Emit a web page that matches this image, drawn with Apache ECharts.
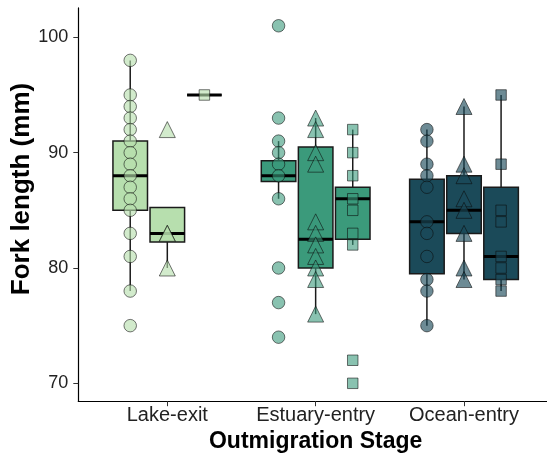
<!DOCTYPE html>
<html>
<head>
<meta charset="utf-8">
<script src="https://cdn.jsdelivr.net/npm/echarts@6/dist/echarts.min.js"></script>
<style>
  html, body { margin: 0; padding: 0; background: #ffffff; }
  #chart { width: 547px; height: 456px; }
</style>
</head>
<body>
<div id="chart"></div>
<script>
// Categories and tick labels
const stages = ['Lake-exit', 'Estuary-entry', 'Ocean-entry'];
const yTicks = [70, 80, 90, 100];

// Individual fork lengths (mm) per stage, one list per marker group
const lakeCircle = [98, 95, 94, 93, 92, 91, 90, 89, 88, 87, 86, 85, 83, 81, 78, 75];
const lakeTriangle = [92, 83, 83, 80];
const lakeSquare = [95];
const estuaryCircle = [101, 93, 91, 90, 89, 88, 86, 80, 77, 74];
const estuaryTriangle = [93, 92, 90, 89, 84, 83, 82, 81, 80, 79, 76];
const estuarySquare = [92, 90, 88, 86, 85, 83, 82, 72, 70];
const oceanCircle = [92, 91, 89, 88, 87, 84, 83, 81, 79, 78, 75];
const oceanTriangle = [94, 89, 88, 86, 85, 83, 80, 79];
const oceanSquare = [95, 89, 85, 84, 81, 80, 79, 78];

// Box summaries: [lower whisker, Q1, median, Q3, upper whisker]
const lakeCircleBox = [78, 85, 88, 91, 98];
const lakeTriangleBox = [80, 82.25, 83, 85.25, 85.25];
const lakeSquareBox = [95, 95, 95, 95, 95];
const estuaryCircleBox = [86, 87.5, 88, 89.3, 91];
const estuaryTriangleBox = [76, 80, 82.5, 90.5, 93];
const estuarySquareBox = [82, 82.5, 86, 87, 92];
const oceanCircleBox = [75, 79.5, 84, 87.7, 92];
const oceanTriangleBox = [79, 83, 85, 88, 94];
const oceanSquareBox = [78, 79, 81, 87, 95];

// Styling
const stageColors = ['#b7dfae', '#3b9a7b', '#1b4a59'];
const pointFill = ['rgba(183,223,174,0.78)', 'rgba(59,154,123,0.75)', 'rgba(27,74,89,0.8)'];
const symbols = ['circle', 'triangle', 'rect'];
const symbolSizes = [12.5, 16, 10.5];
const dodge = [-0.25, 0, 0.25];
const boxWidth = 0.233;

const points = [
  [lakeCircle, lakeTriangle, lakeSquare],
  [estuaryCircle, estuaryTriangle, estuarySquare],
  [oceanCircle, oceanTriangle, oceanSquare]
];
const boxes = [
  [lakeCircleBox, lakeTriangleBox, lakeSquareBox],
  [estuaryCircleBox, estuaryTriangleBox, estuarySquareBox],
  [oceanCircleBox, oceanTriangleBox, oceanSquareBox]
];

const boxData = [];
boxes.forEach((group, s) => {
  group.forEach((b, g) => {
    boxData.push([s + 1 + dodge[g], b[0], b[1], b[2], b[3], b[4], s]);
  });
});

function renderBox(params, api) {
  const x = api.value(0);
  const lo = api.coord([x, api.value(1)]);
  const q1 = api.coord([x, api.value(2)]);
  const med = api.coord([x, api.value(3)]);
  const q3 = api.coord([x, api.value(4)]);
  const hi = api.coord([x, api.value(5)]);
  const s = api.value(6);
  const half = api.size([boxWidth, 0])[0] / 2;
  const lineStyle = { stroke: '#1a1a1a', lineWidth: 1.5 };
  return {
    type: 'group',
    children: [
      { type: 'line', shape: { x1: hi[0], y1: hi[1], x2: q3[0], y2: q3[1] }, style: lineStyle },
      { type: 'line', shape: { x1: q1[0], y1: q1[1], x2: lo[0], y2: lo[1] }, style: lineStyle },
      {
        type: 'rect',
        shape: { x: q3[0] - half, y: q3[1], width: half * 2, height: q1[1] - q3[1] },
        style: { fill: stageColors[s], stroke: '#1a1a1a', lineWidth: 1.5 }
      },
      {
        type: 'line',
        shape: { x1: med[0] - half, y1: med[1], x2: med[0] + half, y2: med[1] },
        style: { stroke: '#000000', lineWidth: 3 }
      }
    ]
  };
}

const series = [{
  type: 'custom',
  renderItem: renderBox,
  data: boxData,
  z: 2,
  silent: true,
  animation: false,
  encode: { x: 0, y: [1, 2, 3, 4, 5] }
}];

points.forEach((group, s) => {
  group.forEach((vals, g) => {
    series.push({
      type: 'scatter',
      symbol: symbols[g],
      symbolSize: symbolSizes[g],
      z: 3,
      silent: true,
      animation: false,
      itemStyle: {
        color: pointFill[s],
        borderColor: 'rgba(10,10,10,0.7)',
        borderWidth: 1
      },
      data: vals.map(v => [s + 1 + dodge[g], v])
    });
  });
});

const chart = echarts.init(document.getElementById('chart'), null, { renderer: 'canvas' });
chart.setOption({
  backgroundColor: '#ffffff',
  animation: false,
  grid: {
    left: 78.3, top: 7.9, width: 474.7, height: 393.3,
    containLabel: false,
    outerBoundsMode: 'none'
  },
  graphic: [{
    type: 'text',
    x: 22,
    y: 189,
    rotation: Math.PI / 2,
    style: {
      text: 'Fork length (mm)',
      fontFamily: 'Liberation Sans',
      fontSize: 26,
      fontWeight: 'bold',
      fill: '#000',
      align: 'center',
      verticalAlign: 'middle'
    }
  }],
  xAxis: {
    type: 'value',
    min: 0.4,
    max: 3.6,
    name: 'Outmigration Stage',
    nameLocation: 'middle',
    nameGap: 24,
    nameTextStyle: { fontFamily: 'Liberation Sans', fontSize: 23, fontWeight: 'bold', color: '#000' },
    axisLine: { show: true, lineStyle: { color: '#000', width: 1.2 } },
    axisTick: { show: true, length: 5, customValues: [1, 2, 3], lineStyle: { color: '#333' } },
    axisLabel: {
      customValues: [1, 2, 3],
      formatter: v => stages[Math.round(v) - 1],
      fontFamily: 'Liberation Sans',
      fontSize: 20,
      color: '#222',
      margin: 4
    },
    splitLine: { show: false }
  },
  yAxis: {
    type: 'value',
    min: 68.45,
    max: 102.55,
    axisLine: { show: true, lineStyle: { color: '#000', width: 1.2 } },
    axisTick: { show: true, length: 5, customValues: yTicks, lineStyle: { color: '#333' } },
    axisLabel: {
      customValues: yTicks,
      fontFamily: 'Liberation Sans',
      fontSize: 18,
      color: '#222',
      margin: 10
    },
    splitLine: { show: false }
  },
  series: series
});
</script>
</body>
</html>
